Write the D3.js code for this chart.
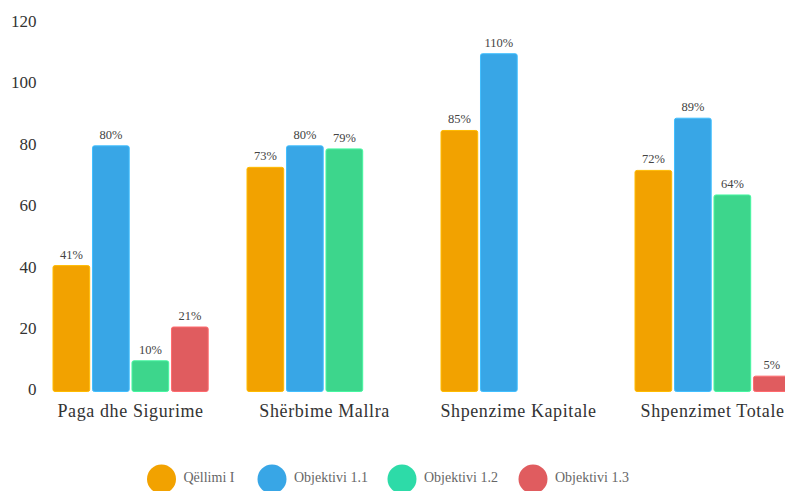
<!DOCTYPE html>
<html>
<head>
<meta charset="utf-8">
<script src="https://cdn.jsdelivr.net/npm/d3@7"></script>
<style>
  html, body { margin: 0; padding: 0; background: #fff; overflow: hidden; }
  svg { display: block; }
  text { font-family: "Liberation Serif", "DejaVu Serif", serif; }
</style>
</head>
<body>
<svg id="chart" width="785" height="491"></svg>
<script>
const categories = ["Paga dhe Sigurime", "Shërbime Mallra", "Shpenzime Kapitale", "Shpenzimet Totale"];
const seriesNames = ["Qëllimi I", "Objektivi 1.1", "Objektivi 1.2", "Objektivi 1.3"];
const qellimi1 = [41, 73, 85, 72];
const objektivi11 = [80, 80, 110, 89];
const objektivi12 = [10, 79, null, 64];
const objektivi13 = [21, null, null, 5];
const barColors = ["#F2A200", "#38A6E6", "#3DD68C", "#E05C5F"];
const legendColors = ["#F2A200", "#38A6E6", "#2DDBA8", "#E05C5F"];
const yTicks = [0, 20, 40, 60, 80, 100, 120];

const seriesValues = [qellimi1, objektivi11, objektivi12, objektivi13];

const svg = d3.select("#chart");
const yBase = 391.5, yTop = 23;

const x0 = d3.scaleBand().domain(categories).range([33.6, 809.6]).paddingInner(0.2).paddingOuter(0.1);
const x1 = d3.scaleBand().domain(seriesNames).range([0, x0.bandwidth()]).paddingInner(0.07);
const y = d3.scaleLinear().domain([0, 120]).range([yBase, yTop]);

// y tick labels
svg.append("g").selectAll("text").data(yTicks).join("text")
  .attr("x", 36.5).attr("y", d => y(d))
  .attr("text-anchor", "end").attr("dominant-baseline", "middle")
  .attr("font-size", 17).attr("fill", "#333")
  .text(d => d);

// bars
const data = [];
categories.forEach((c, i) => {
  seriesNames.forEach((s, j) => {
    const v = seriesValues[j][i];
    if (v !== null && v !== undefined) data.push({ c, s, j, v });
  });
});

const g = svg.append("g");
g.selectAll("rect").data(data).join("rect")
  .attr("x", d => x0(d.c) + x1(d.s))
  .attr("y", d => y(d.v))
  .attr("width", x1.bandwidth())
  .attr("height", d => yBase - y(d.v))
  .attr("rx", 2).attr("ry", 2)
  .attr("fill", d => barColors[d.j])
  .attr("stroke", d => d3.color(barColors[d.j]).brighter(0.4))
  .attr("stroke-width", 1);

g.selectAll("text").data(data).join("text")
  .attr("x", d => x0(d.c) + x1(d.s) + x1.bandwidth() / 2)
  .attr("y", d => y(d.v) - 7)
  .attr("text-anchor", "middle")
  .attr("font-size", 12.5).attr("fill", "#444")
  .text(d => d.v + "%");

// category labels
svg.append("g").selectAll("text").data(categories).join("text")
  .attr("x", d => x0(d) + x0.bandwidth() / 2)
  .attr("y", 417)
  .attr("text-anchor", "middle")
  .attr("font-size", 18).attr("letter-spacing", 0.6).attr("fill", "#333")
  .text(d => d);

// legend
const legendX = [161.5, 272, 402, 533];
const lg = svg.append("g");
seriesNames.forEach((s, j) => {
  lg.append("circle").attr("cx", legendX[j]).attr("cy", 479).attr("r", 14.5).attr("fill", legendColors[j]);
  lg.append("text").attr("x", legendX[j] + 22).attr("y", 479)
    .attr("dominant-baseline", "middle").attr("font-size", 14).attr("fill", "#666")
    .text(s);
});
</script>
</body>
</html>
